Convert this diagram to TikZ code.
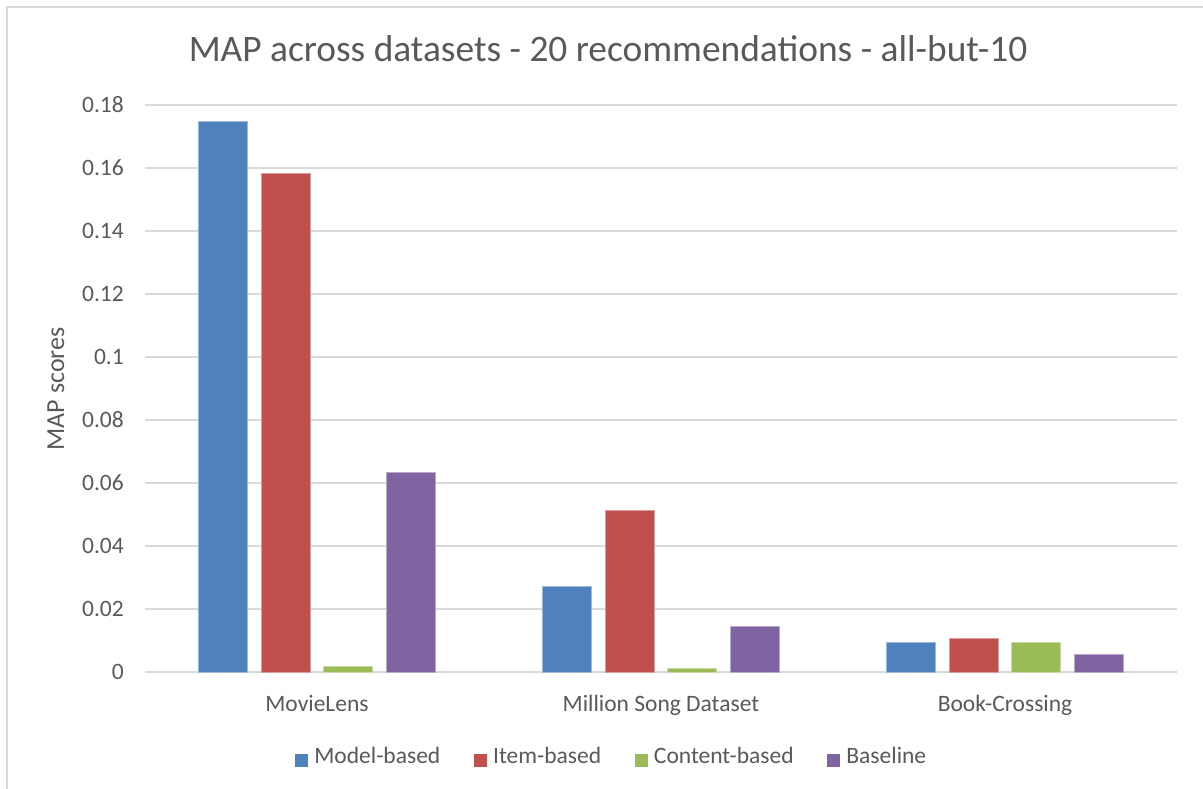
\documentclass[tikz,border=0pt]{standalone}
\usepackage{fontspec}
\setmainfont{Carlito}
\usepackage{xcolor}
\usepackage{tikz}
\usetikzlibrary{
    positioning
}
\definecolor{modelblue}{HTML}{4F81BD}
\definecolor{itemred}{HTML}{C0504D}
\definecolor{contentgreen}{HTML}{9BBB59}
\definecolor{baselinepurple}{HTML}{8064A2}
\definecolor{gridgray}{HTML}{D9D9D9}
\definecolor{textgray}{HTML}{595959}
\tikzset{
  frame/.style = {
      draw=gridgray,
      line width=1.5pt
  },
  grid line/.style = {
      draw=gridgray,
      line width=2pt
  },
  bar/.style = {
      fill=#1,
      draw=#1!55!white,
      line width=0.8pt
  },
  axis text/.style = {
      font=\fontsize{23.5}{28}\selectfont,
      text=textgray,
      inner sep=0pt
  },
  title/.style = {
      font=\fontsize{37.4}{44}\selectfont,
      text=textgray,
      inner sep=0pt,
      anchor=base
  },
  tick label/.style = {
      axis text,
      anchor=east
  },
  cat label/.style = {
      axis text,
      anchor=base
  },
  axis title/.style = {
      axis text,
      font=\fontsize{26}{30}\selectfont,
      rotate=90
  },
  legend key/.style = {
      minimum size=13pt,
      inner sep=0pt,
      fill=#1
  },
  legend text/.style = {
      axis text,
      text height=0.64em,
      text depth=0pt
  }
}

\begin{document}
\begin{tikzpicture}[x=1pt, y=-1pt]
        \useasboundingbox (0,0) rectangle (1203,789);
        \draw[frame] (7,789) -- (7,7) -- (1203,7);
        \node[title] (title) at (608,62) {MAP across datasets - 20 recommendations - all-but-10};
        % Grid
        \foreach \k/\lab in {0/0, 1/0.02, 2/0.04, 3/0.06, 4/0.08, 5/0.1, 6/0.12, 7/0.14, 8/0.16, 9/0.18} {
            \draw[grid line] (145,{672-63*\k}) -- (1177,{672-63*\k});
            \node[tick label] (tick\k) at (124,{672-63*\k}) {\lab};
        }
        \node[axis title] (ylabel) at (56,389) {MAP scores};
        % Bars
        \foreach \g/\i/\v/\c in {0/0/0.1749/modelblue, 0/1/0.1583/itemred, 0/2/0.0018/contentgreen, 0/3/0.0635/baselinepurple,
                                 1/0/0.0271/modelblue, 1/1/0.0513/itemred, 1/2/0.0013/contentgreen, 1/3/0.0144/baselinepurple,
                                 2/0/0.0094/modelblue, 2/1/0.0106/itemred, 2/2/0.0094/contentgreen, 2/3/0.0057/baselinepurple} {
            \path[bar=\c] ({317+344*\g+62.5*(\i-1.5)-24.5},672) rectangle ++(49,{-\v*3150});
        }
        \foreach \g/\name in {0/MovieLens, 1/Million Song Dataset, 2/Book-Crossing} {
            \node[cat label] (cat\g) at ({317+344*\g},711) {\name};
        }
        % Legend
        \node[legend key=modelblue] (key1) at (301.5,760) {};
        \node[legend text, right=6pt of key1] (leg1) {Model-based};
        \node[legend key=itemred, right=33pt of leg1] (key2) {};
        \node[legend text, right=6pt of key2] (leg2) {Item-based};
        \node[legend key=contentgreen, right=33pt of leg2] (key3) {};
        \node[legend text, right=6pt of key3] (leg3) {Content-based};
        \node[legend key=baselinepurple, right=33pt of leg3] (key4) {};
        \node[legend text, right=6pt of key4] (leg4) {Baseline};
\end{tikzpicture}
\end{document}
